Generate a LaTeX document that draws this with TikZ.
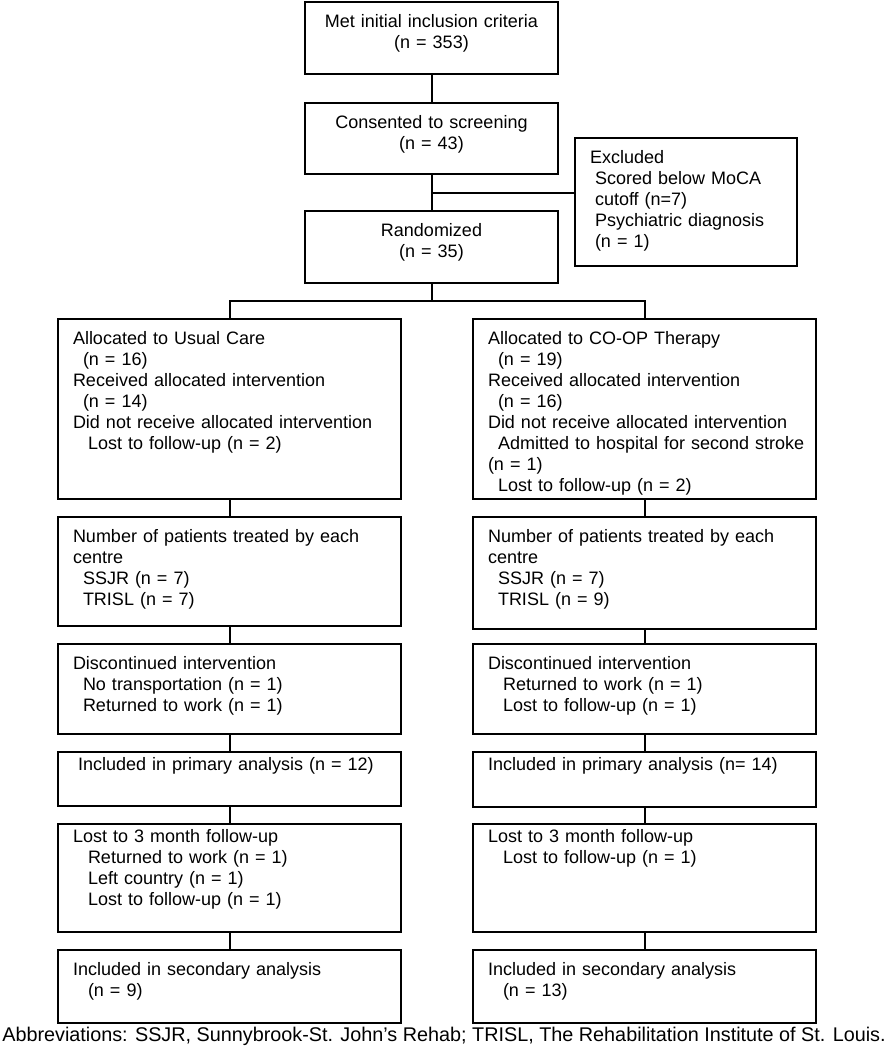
\documentclass[tikz,border=0pt]{standalone}
\usepackage{fontspec}
\setmainfont{Liberation Sans}
\usetikzlibrary{calc}

\newcommand{\idt}[1]{\hspace*{#1pt}}

\tikzset{
  flowbox/.style={draw, line width=2pt, anchor=north west, inner xsep=15pt, inner ysep=0pt,
    text width=313pt, align=left, font=\fontsize{18}{21}\selectfont, text height=25pt},
  midbox/.style={flowbox, text width=223pt, align=center},
  link/.style={line width=2pt}
}

\begin{document}
\begin{tikzpicture}[x=1pt,y=-1pt]
  \useasboundingbox (0,0) rectangle (888,1050);
  % screening chain
  \node[midbox, text depth=47pt] (met) at (304,1) {Met initial inclusion criteria\\(n = 353)};
  \node[midbox, text depth=46pt] (consent) at (304,102) {Consented to screening\\(n = 43)};
  \node[midbox, text depth=47pt] (rand) at (304,210) {Randomized\\(n = 35)};
  \node[flowbox, text width=192pt, text depth=103pt] (excl) at (574,137) {Excluded\\
    \idt{5}Scored below MoCA\\ \idt{5}cutoff (n=7)\\ \idt{5}Psychiatric diagnosis\\ \idt{5}(n = 1)};

  % usual care arm
  \node[flowbox, text depth=155pt] (usual) at (57,318) {Allocated to Usual Care\\
    \idt{10}(n = 16)\\ Received allocated intervention\\ \idt{10}(n = 14)\\
    Did not receive allocated intervention\\ \idt{15}Lost to follow-up (n = 2)};
  \node[flowbox, text depth=84pt] (centreL) at (57,516) {Number of patients treated by each\\
    centre\\ \idt{10}SSJR (n = 7)\\ \idt{10}TRISL (n = 7)};
  \node[flowbox, text depth=65pt] (discL) at (57,643) {Discontinued intervention\\
    \idt{10}No transportation (n = 1)\\ \idt{10}Returned to work (n = 1)};
  \node[flowbox, text height=18pt, text depth=36pt] (primL) at (57,751) {\idt{5}Included in primary analysis (n = 12)};
  \node[flowbox, text height=18pt, text depth=90pt] (lostL) at (57,823) {Lost to 3 month follow-up\\
    \idt{15}Returned to work (n = 1)\\ \idt{15}Left country (n = 1)\\ \idt{15}Lost to follow-up (n = 1)};
  \node[flowbox, text depth=48pt] (secL) at (57,949) {Included in secondary analysis\\ \idt{15}(n = 9)};

  % CO-OP arm
  \node[flowbox, text depth=155pt] (coop) at (472,318) {Allocated to CO-OP Therapy\\
    \idt{10}(n = 19)\\ Received allocated intervention\\ \idt{10}(n = 16)\\
    Did not receive allocated intervention\\ \idt{10}\mbox{Admitted to hospital for second stroke}\\
    (n = 1)\\ \idt{10}Lost to follow-up (n = 2)};
  \node[flowbox, text depth=87pt] (centreR) at (472,516) {Number of patients treated by each\\
    centre\\ \idt{10}SSJR (n = 7)\\ \idt{10}TRISL (n = 9)};
  \node[flowbox, text depth=65pt] (discR) at (472,643) {Discontinued intervention\\
    \idt{15}Returned to work (n = 1)\\ \idt{15}Lost to follow-up (n = 1)};
  \node[flowbox, text height=18pt, text depth=37pt] (primR) at (472,751) {Included in primary analysis (n= 14)};
  \node[flowbox, text height=18pt, text depth=90pt] (lostR) at (472,823) {Lost to 3 month follow-up\\
    \idt{15}Lost to follow-up (n = 1)};
  \node[flowbox, text depth=48pt] (secR) at (472,949) {Included in secondary analysis\\ \idt{15}(n = 13)};

  \node[font=\fontsize{19.8}{22}\selectfont, inner sep=0pt] (abbr) at (444,1036)
    {Abbreviations: SSJR, Sunnybrook-St. John’s Rehab; TRISL, The Rehabilitation Institute of St. Louis.};

  % connectors
  \draw[link] (met.south) -- (consent.north);
  \draw[link] (consent.south) -- (rand.north);
  \coordinate (exj) at ($(consent.south)!0.5!(rand.north)$);
  \draw[link] (exj) -- (exj -| excl.west);
  \coordinate (split) at ($(rand.south)!0.5!(rand.south |- usual.north)$);
  \draw[link] (rand.south) -- (split);
  \draw[link] (usual.north) |- (split) -| (coop.north);
  \foreach \a/\b in {usual/centreL, centreL/discL, discL/primL, primL/lostL, lostL/secL,
                     coop/centreR, centreR/discR, discR/primR, primR/lostR, lostR/secR}
    \draw[link] (\a.south) -- (\b.north);
\end{tikzpicture}
\end{document}
